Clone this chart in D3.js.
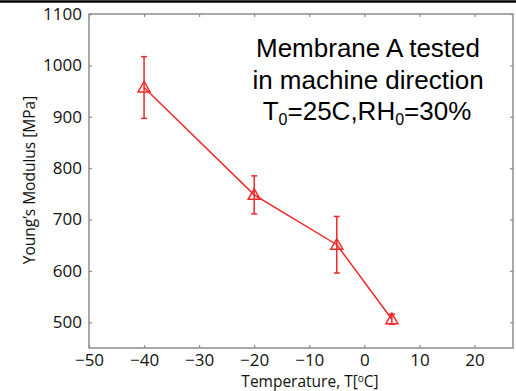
<!DOCTYPE html>
<html>
<head>
<meta charset="utf-8">
<script src="https://cdn.jsdelivr.net/npm/d3@7"></script>
<style>
  body { margin: 0; background: #fff; }
  svg { display: block; }
  .axis line { stroke: #8c8c8c; stroke-width: 1.2; }
</style>
</head>
<body>
<div id="chart"></div>
<script>
// data
let temps = [-40, -20, -5, 5];
let modulus = [957, 748, 651, 506];
let errors = [60, 37, 55, 10];

let xTicks = [-50, -40, -30, -20, -10, 0, 10, 20];
let yTicks = [500, 600, 700, 800, 900, 1000, 1100];

let noteLines = ["Membrane A tested", "in machine direction"];

let W = 516, H = 391;
let margin = {top: 14, right: 3, bottom: 43, left: 89};
let width = W - margin.left - margin.right;
let height = H - margin.top - margin.bottom;
let labelFont = "'Open Sans', 'Noto Sans', sans-serif";

let svg = d3.select("#chart").append("svg")
    .attr("width", W)
    .attr("height", H);

// black rule across the top
svg.append("line")
    .attr("x1", 0).attr("x2", W)
    .attr("y1", 1.5).attr("y2", 1.5)
    .attr("stroke", "#000")
    .attr("stroke-width", 2.5);

let g = svg.append("g")
    .attr("transform", `translate(${margin.left},${margin.top})`);

let x = d3.scaleLinear().domain([-50, 27]).range([0, width]);
let y = d3.scaleLinear().domain([450, 1100]).range([height, 0]);

let fmt = d => d3.format("d")(d).replace("-", "\u2212");

// axes, ticks pointing inward
g.append("g")
    .attr("class", "axis")
    .attr("transform", `translate(0,${height})`)
    .call(d3.axisBottom(x).tickValues(xTicks).tickSizeInner(-3).tickSizeOuter(0).tickPadding(6).tickFormat(fmt));

g.append("g")
    .attr("class", "axis")
    .call(d3.axisLeft(y).tickValues(yTicks).tickSizeInner(-3).tickSizeOuter(0).tickPadding(7).tickFormat(fmt));

g.append("g")
    .attr("class", "axis")
    .call(d3.axisTop(x).tickValues(xTicks).tickSizeInner(-3).tickSizeOuter(0).tickFormat(""));

g.append("g")
    .attr("class", "axis")
    .attr("transform", `translate(${width},0)`)
    .call(d3.axisRight(y).tickValues(yTicks).tickSizeInner(-3).tickSizeOuter(0).tickFormat(""));

g.selectAll(".axis path").remove();
g.selectAll(".axis")
    .attr("font-family", labelFont)
    .attr("font-size", 17);
g.selectAll(".axis text")
    .attr("fill", "#111");

// frame
g.append("rect")
    .attr("width", width)
    .attr("height", height)
    .attr("fill", "none")
    .attr("stroke", "#8c8c8c")
    .attr("stroke-width", 1.5);

let red = "#f02828";
let pts = temps.map((t, i) => ({t: t, v: modulus[i], e: errors[i]}));

// line
g.append("path")
    .datum(pts)
    .attr("fill", "none")
    .attr("stroke", red)
    .attr("stroke-width", 1.5)
    .attr("d", d3.line().x(d => x(d.t)).y(d => y(d.v)));

// error bars
let eb = g.selectAll(".err").data(pts).enter().append("g")
    .attr("class", "err")
    .attr("stroke", red)
    .attr("stroke-width", 1.5);

eb.append("line")
    .attr("x1", d => x(d.t)).attr("x2", d => x(d.t))
    .attr("y1", d => y(d.v + d.e)).attr("y2", d => y(d.v - d.e));
eb.append("line")
    .attr("x1", d => x(d.t) - 3).attr("x2", d => x(d.t) + 3)
    .attr("y1", d => y(d.v + d.e)).attr("y2", d => y(d.v + d.e));
eb.append("line")
    .attr("x1", d => x(d.t) - 3).attr("x2", d => x(d.t) + 3)
    .attr("y1", d => y(d.v - d.e)).attr("y2", d => y(d.v - d.e));

// triangle markers
g.selectAll(".marker").data(pts).enter().append("path")
    .attr("class", "marker")
    .attr("transform", d => `translate(${x(d.t)},${y(d.v)})`)
    .attr("d", "M0,-6L6,4.5L-6,4.5Z")
    .attr("fill", "none")
    .attr("stroke", red)
    .attr("stroke-width", 1.5);

// axis labels
svg.append("text")
    .attr("x", 310)
    .attr("y", 387)
    .attr("text-anchor", "middle")
    .attr("font-family", labelFont)
    .attr("font-size", 15.5)
    .attr("fill", "#111")
    .call(t => {
        t.append("tspan").text("Temperature, T[");
        t.append("tspan").attr("dy", -5).attr("font-size", 10).text("o");
        t.append("tspan").attr("dy", 5).text("C]");
    });

svg.append("text")
    .attr("transform", "translate(35,180) rotate(-90)")
    .attr("text-anchor", "middle")
    .attr("font-family", labelFont)
    .attr("font-size", 15.5)
    .attr("fill", "#111")
    .text("Young\u2019s Modulus [MPa]");

// annotation
let note = svg.append("g")
    .attr("font-family", "'Liberation Sans', Arial, sans-serif")
    .attr("font-size", 26)
    .attr("fill", "#000")
    .attr("text-anchor", "middle");

noteLines.forEach((s, i) => {
    note.append("text")
        .attr("x", 368)
        .attr("y", 57 + i * 32)
        .text(s);
});

note.append("text")
    .attr("x", 367)
    .attr("y", 120)
    .call(t => {
        t.append("tspan").text("T");
        t.append("tspan").attr("dy", 5).attr("font-size", 16).text("0");
        t.append("tspan").attr("dy", -5).text("=25C,RH");
        t.append("tspan").attr("dy", 5).attr("font-size", 16).text("0");
        t.append("tspan").attr("dy", -5).text("=30%");
    });
</script>
</body>
</html>
